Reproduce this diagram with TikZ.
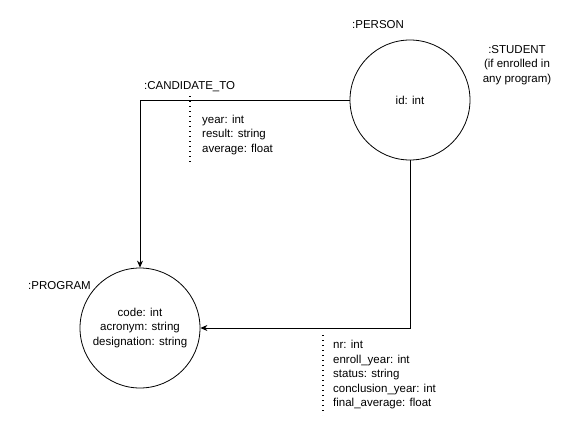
\documentclass[tikz,border=0pt]{standalone}
\usepackage{fontspec}
\setmainfont{Liberation Sans}
\usetikzlibrary{arrows.meta}
\begin{document}
\begin{tikzpicture}[x=1pt,y=-1pt,
  ent/.style={circle,draw,line width=0.8pt,minimum size=120pt,inner sep=0pt,align=center,font=\fontsize{11.5}{14.5}\selectfont},
  lbl/.style={inner sep=0pt,font=\fontsize{11.5}{14.5}\selectfont},
  attr/.style={inner sep=0pt,anchor=west,align=left,font=\fontsize{11.5}{14.5}\selectfont},
  conn/.style={line width=0.8pt,-{Stealth[length=7pt,width=6pt]}},
  dotl/.style={line width=1.4pt,dash pattern=on 1.2pt off 3.8pt}]
\useasboundingbox (0,0) rectangle (581,442);
\node[ent] (person) at (410,100) {id: int};
\node[ent] (program) at (140,328) {code: int\\acronym: string\\designation: string};
\node[lbl,anchor=west] (lperson) at (352,25) {:PERSON};
\node[lbl,align=center] (lstudent) at (517,65) {:STUDENT\\(if enrolled in\\any program)};
\node[lbl,anchor=west] (lprogram) at (28,286) {:PROGRAM};
\node[lbl,anchor=west] (lcand) at (144,87) {:CANDIDATE\_TO};
\coordinate (c1) at (140,100);
\coordinate (c2) at (410,328);
\draw[conn] (person.west) -- (c1) -- (program.north);
\draw[conn] (person.south) -- (c2) -- (program.east);
\coordinate (d1a) at (190,96);
\coordinate (d1b) at (190,162);
\draw[dotl] (d1a) -- (d1b);
\node[attr] (a1) at (202,135) {year: int\\result: string\\average: float};
\coordinate (d2a) at (323,335);
\coordinate (d2b) at (323,412);
\draw[dotl] (d2a) -- (d2b);
\node[attr] (a2) at (333,375) {nr: int\\enroll\_year: int\\status: string\\conclusion\_year: int\\final\_average: float};
\end{tikzpicture}
\end{document}
